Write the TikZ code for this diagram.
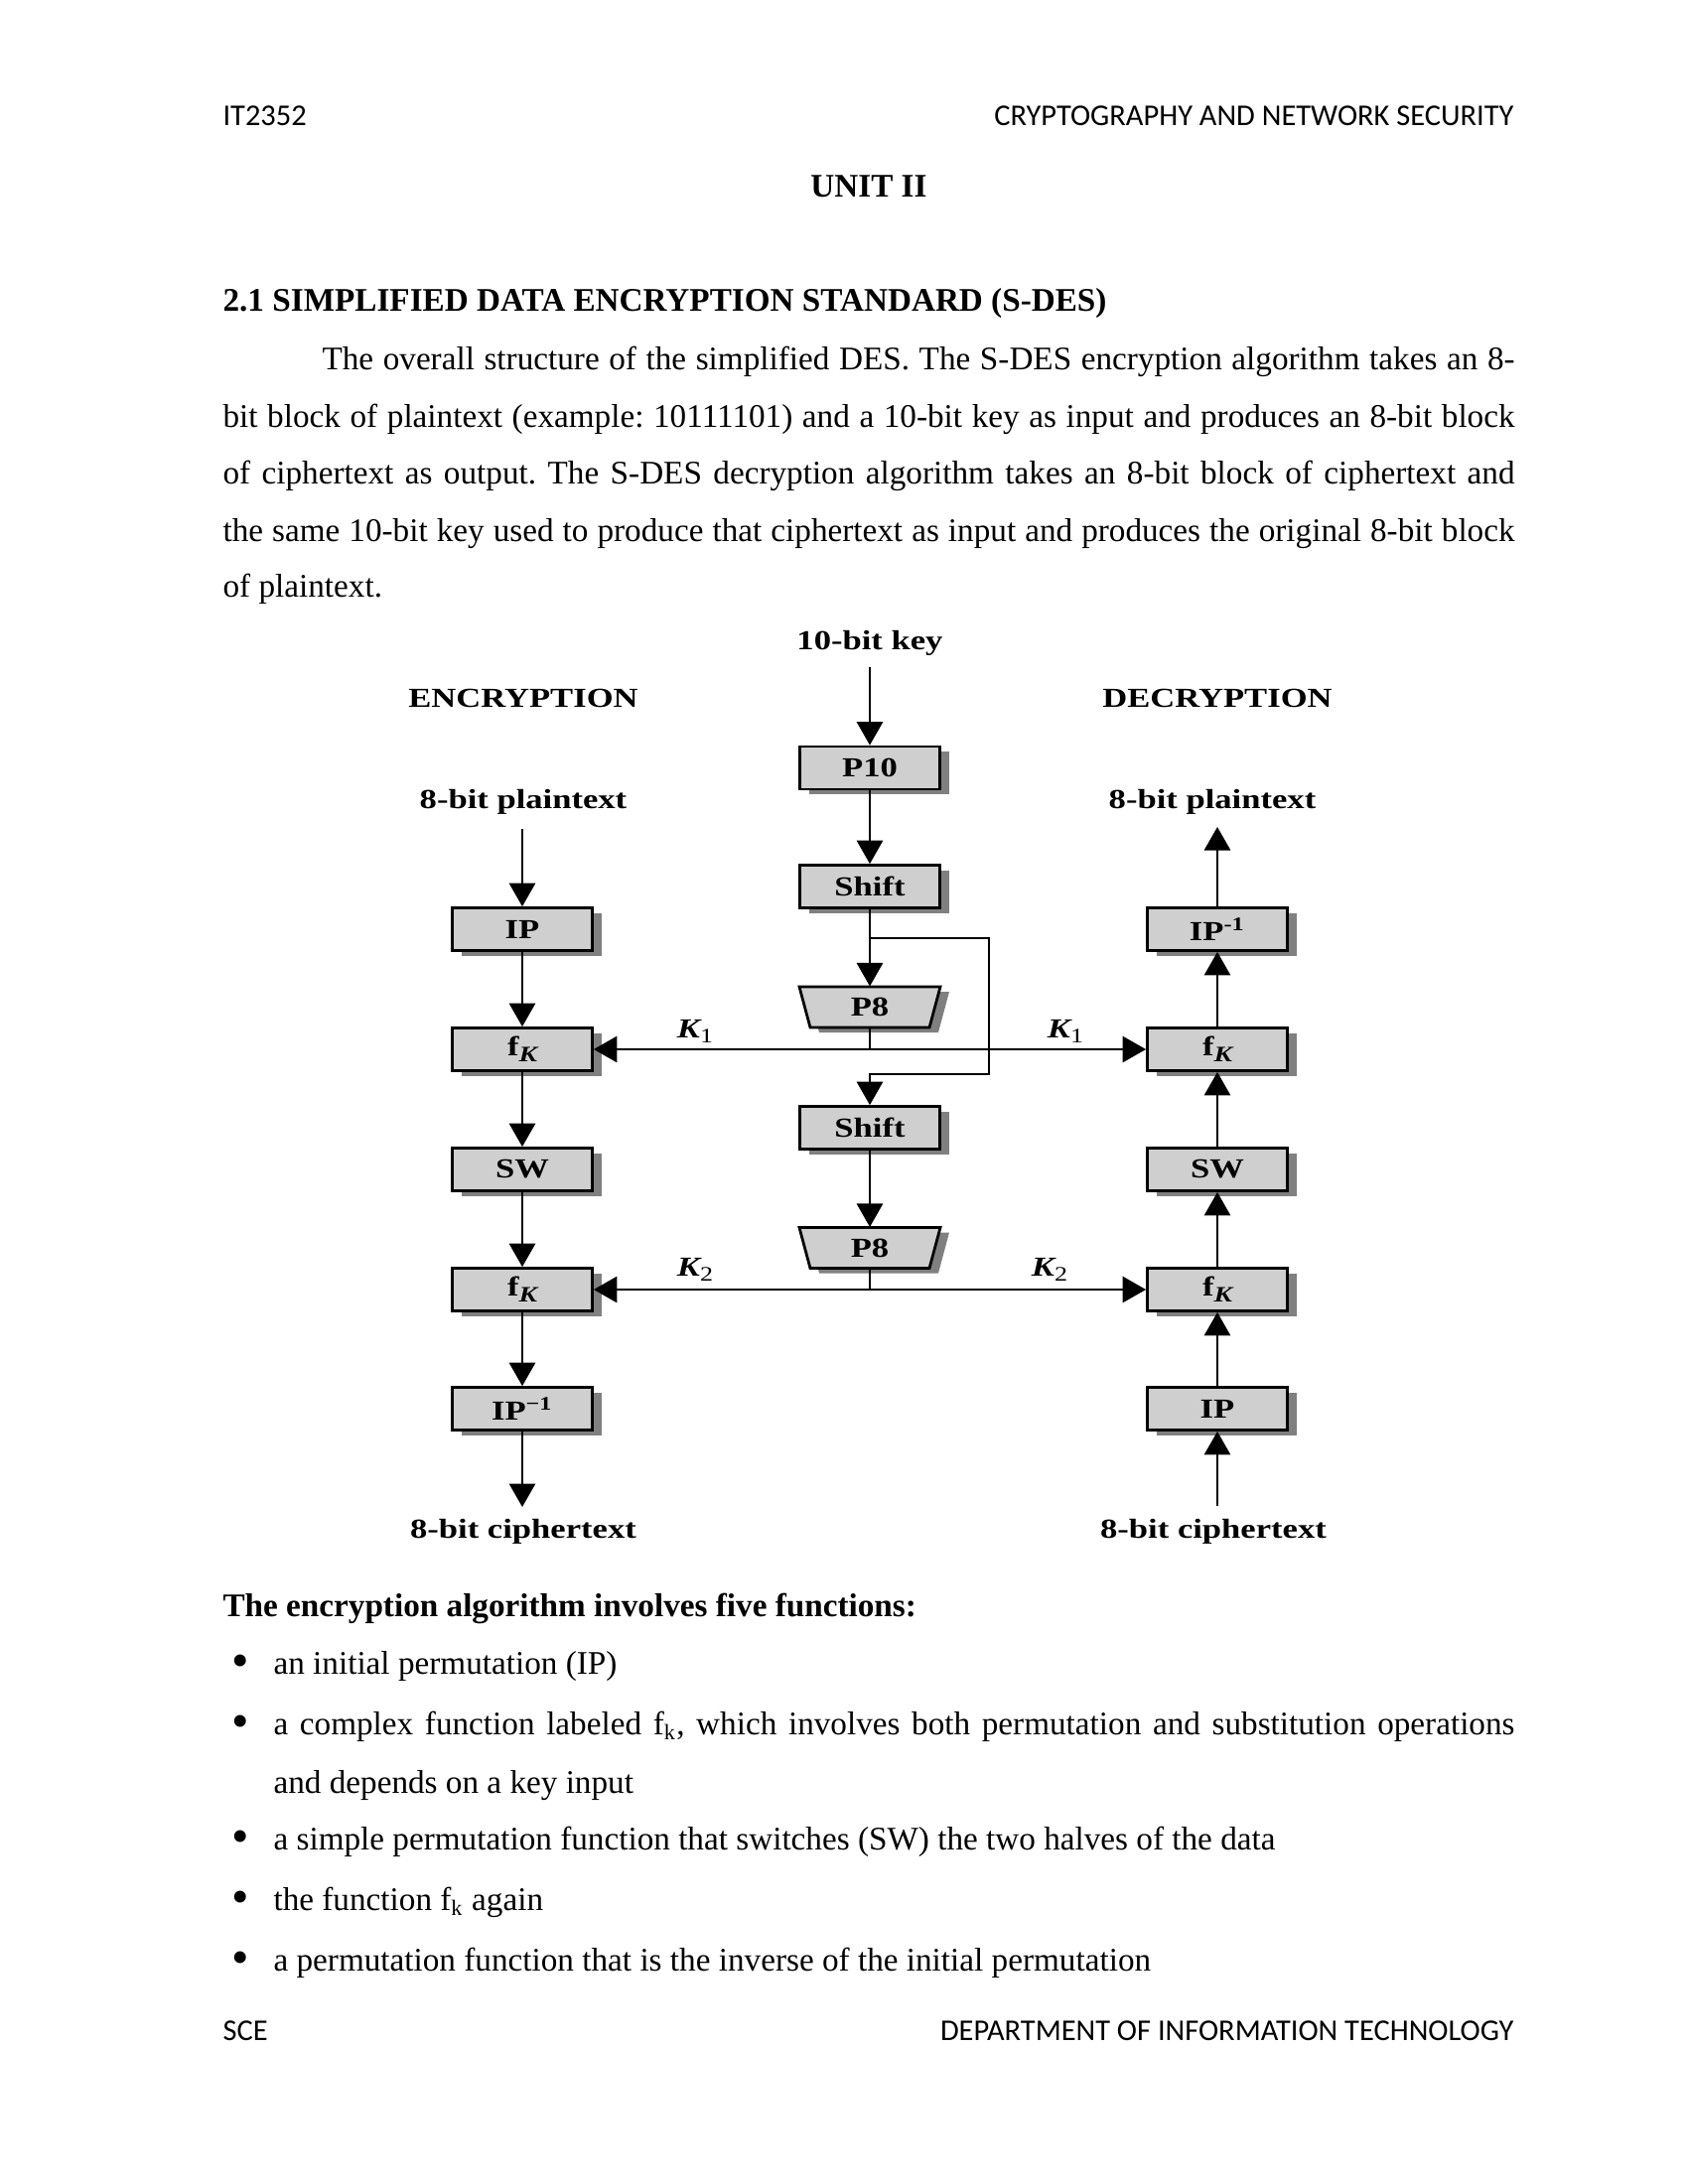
\documentclass[tikz,border=0pt]{standalone}
\usepackage{fontspec}
\usepackage{graphicx}
\setmainfont{Liberation Serif}
\newfontfamily\hdrfont{Carlito}
\newfontfamily\figfont[FakeStretch=1.25]{Liberation Serif}
\usetikzlibrary{arrows.meta,shadows,calc}
\newlength\px
\setlength\px{0.36135pt}
\frenchspacing
\newcommand\figlab{\fontsize{10}{12}\figfont\bfseries}
\newcommand\boxlab{\fontsize{10}{12}\figfont\bfseries}
\newcommand\fK{f\raisebox{-0.45ex}{\fontsize{8}{9}\selectfont\itshape K}}
\newcommand\Klab[1]{{\itshape K}\raisebox{-0.4ex}{\fontsize{7.5}{9}\selectfont\mdseries #1}}
\newcommand\bodyfont{\fontsize{12}{14}\selectfont}
\newcommand\bul{\raisebox{-1.3pt}{\scalebox{1.5}{\textbullet}}}
\begin{document}
\begin{tikzpicture}[x=\px,y=-\px,
  boxshape/.style={draw=black, line width=1pt, fill=black!19, minimum width=141\px,
    minimum height=43\px, inner sep=0pt, font=\boxlab,
    drop shadow={shadow xshift=3.3pt, shadow yshift=-1.8pt, fill=black!50, opacity=1}},
  conn/.style={line width=0.75pt},
  arr/.style={line width=0.75pt, -{Triangle[length=8.5pt,width=9.5pt]}},
  lab/.style={font=\figlab, inner sep=0pt},
  txt/.style={anchor=base west, inner sep=0pt, font=\bodyfont},
  hdr/.style={inner sep=0pt, font=\fontsize{11}{13}\hdrfont}]
\fill[white] (0,0) rectangle (1700,2200);
\useasboundingbox (0,0) rectangle (1700,2200);

% header / footer
\node[hdr, anchor=base west] (h1) at (224,126) {IT2352};
\node[hdr, anchor=base east] (h2) at (1525,126) {CRYPTOGRAPHY AND NETWORK SECURITY};
\node[hdr, anchor=base west] (f1) at (224,2055) {SCE};
\node[hdr, anchor=base east] (f2) at (1525,2055) {DEPARTMENT OF INFORMATION TECHNOLOGY};

% titles
\node[inner sep=0pt, anchor=base, font=\bodyfont\bfseries] (unit) at (875,198) {UNIT II};
\node[txt, font=\bodyfont\bfseries] (sec) at (224,313) {2.1 SIMPLIFIED DATA ENCRYPTION STANDARD (S-DES)};

% paragraph
\node[txt] (p1) at (224,372) {\makebox[1301\px][s]{\hspace*{100\px}The overall structure of the simplified DES. The S-DES encryption algorithm takes an 8-}};
\node[txt] (p2) at (224,430) {\makebox[1301\px][s]{bit block of plaintext (example: 10111101) and a 10-bit key as input and produces an 8-bit block}};
\node[txt] (p3) at (224,487) {\makebox[1301\px][s]{of ciphertext as output. The S-DES decryption algorithm takes an 8-bit block of ciphertext and}};
\node[txt] (p4) at (224,545) {\makebox[1301\px][s]{the same 10-bit key used to produce that ciphertext as input and produces the original 8-bit block}};
\node[txt] (p5) at (224,601) {of plaintext.};

% list
\node[txt, font=\bodyfont\bfseries] (lh) at (224,1628) {The encryption algorithm involves five functions:};
\node[txt] (b1) at (233,1686) {\bul};
\node[txt] (l1) at (275,1686) {an initial permutation (IP)};
\node[txt] (b2) at (233,1747) {\bul};
\node[txt] (l2) at (275,1747) {\makebox[1250\px][s]{a complex function labeled f\textsubscript{k}, which involves both permutation and substitution operations}};
\node[txt] (l2b) at (275,1806) {and depends on a key input};
\node[txt] (b3) at (233,1863) {\bul};
\node[txt] (l3) at (275,1863) {a simple permutation function that switches (SW) the two halves of the data};
\node[txt] (b4) at (233,1924) {\bul};
\node[txt] (l4) at (275,1924) {the function f\textsubscript{k} again};
\node[txt] (b5) at (233,1985) {\bul};
\node[txt] (l5) at (275,1985) {a permutation function that is the inverse of the initial permutation};

% diagram labels
\node[lab] (key) at (876,648) {10-bit key};
\node[lab] (enc) at (527,703) {ENCRYPTION};
\node[lab] (dec) at (1226,703) {DECRYPTION};
\node[lab] (ptl) at (527,808) {8-bit plaintext};
\node[lab] (ptr) at (1221,808) {8-bit plaintext};
\node[lab] (ctl) at (527,1543) {8-bit ciphertext};
\node[lab] (ctr) at (1222,1543) {8-bit ciphertext};
\node[lab] (k1l) at (700,1039) {\Klab{1}};
\node[lab] (k1r) at (1073,1039) {\Klab{1}};
\node[lab] (k2l) at (700,1279) {\Klab{2}};
\node[lab] (k2r) at (1057,1279) {\Klab{2}};

% centre column
\node[boxshape] (P10) at (876,773.5) {P10};
\node[boxshape] (S1) at (876,893) {Shift};
\node[boxshape] (S2) at (876,1136) {Shift};
\foreach \nm/\yy in {P8a/1014.5, P8b/1257}{
  \fill[black!50] (876-71+9,\yy-20.5+5) -- (876+71+9,\yy-20.5+5) -- (876+60+9,\yy+20.5+5) -- (876-60+9,\yy+20.5+5) -- cycle;
  \draw[line width=1pt, fill=black!19] (876-71,\yy-20.5) -- (876+71,\yy-20.5) -- (876+60,\yy+20.5) -- (876-60,\yy+20.5) -- cycle;
  \node[font=\boxlab, minimum width=142\px, minimum height=41\px, inner sep=0pt] (\nm) at (876,\yy) {P8};
}

% left column
\node[boxshape] (IPL) at (526,936) {IP};
\node[boxshape] (F1L) at (526,1057) {\fK};
\node[boxshape] (SWL) at (526,1178) {SW};
\node[boxshape] (F2L) at (526,1299) {\fK};
\node[boxshape] (IPiL) at (526,1419) {IP\textsuperscript{−1}};

% right column
\node[boxshape] (IPiR) at (1226,936) {IP\textsuperscript{-1}};
\node[boxshape] (F1R) at (1226,1057) {\fK};
\node[boxshape] (SWR) at (1226,1178) {SW};
\node[boxshape] (F2R) at (1226,1299) {\fK};
\node[boxshape] (IPR) at (1226,1419) {IP};

% coordinates
\coordinate (keyin) at (876,672);
\coordinate (br1) at (876,945);
\coordinate (br2) at (996,945);
\coordinate (br3) at (996,1082);
\coordinate (kj1) at (876,1057);
\coordinate (kj2) at (876,1299);
\coordinate (ptlin) at (526,835);
\coordinate (ctlout) at (526,1518);
\coordinate (ctrin) at (1226,1517);
\coordinate (ptrout) at (1226,833);

% key schedule
\draw[arr] (keyin) -- (P10.north);
\draw[arr] (P10.south) -- (S1.north);
\draw[arr] (S1.south) -- (P8a.north);
\draw[arr] (br1) -- (br2) -- (br3) -| (S2.north);
\draw[arr] (S2.south) -- (P8b.north);
\draw[conn] (P8a.south) -- (kj1);
\draw[conn] (P8b.south) -- (kj2);
\draw[arr] (kj1) -- (F1L.east);
\draw[arr] (kj1) -- (F1R.west);
\draw[arr] (kj2) -- (F2L.east);
\draw[arr] (kj2) -- (F2R.west);

% encryption
\draw[arr] (ptlin) -- (IPL.north);
\draw[arr] (IPL.south) -- (F1L.north);
\draw[arr] (F1L.south) -- (SWL.north);
\draw[arr] (SWL.south) -- (F2L.north);
\draw[arr] (F2L.south) -- (IPiL.north);
\draw[arr] (IPiL.south) -- (ctlout);

% decryption
\draw[arr] (ctrin) -- (IPR.south);
\draw[arr] (IPR.north) -- (F2R.south);
\draw[arr] (F2R.north) -- (SWR.south);
\draw[arr] (SWR.north) -- (F1R.south);
\draw[arr] (F1R.north) -- (IPiR.south);
\draw[arr] (IPiR.north) -- (ptrout);
\end{tikzpicture}
\end{document}
